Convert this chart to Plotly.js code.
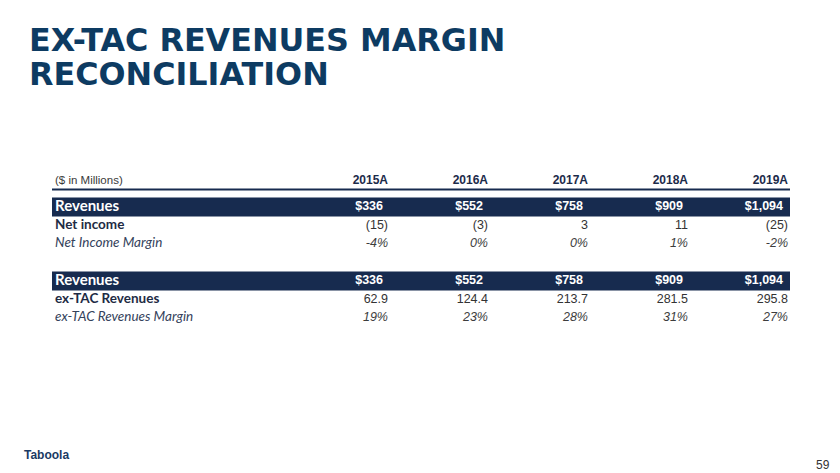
<!DOCTYPE html>
<html>
<head>
<meta charset="utf-8">
<script src="https://cdn.plot.ly/plotly-3.0.1.min.js"></script>
<style>
html,body{margin:0;padding:0;background:#fff;}
#chart{width:840px;height:473px;}
</style>
</head>
<body>
<div id="chart"></div>
<script>
// ---- data ----
const years = ['2015A', '2016A', '2017A', '2018A', '2019A'];
const revenues = [336, 552, 758, 909, 1094];
const netIncome = [-15, -3, 3, 11, -25];
const netIncomeMargin = [-4, 0, 0, 1, -2];
const exTacRevenues = [62.9, 124.4, 213.7, 281.5, 295.8];
const exTacMargin = [19, 23, 28, 31, 27];
const rowLabels = ['Revenues', 'Net income', 'Net Income Margin', '', 'Revenues', 'ex-TAC Revenues', 'ex-TAC Revenues Margin'];
const unitLabel = '($ in Millions)';
const titleLines = ['EX-TAC REVENUES MARGIN', 'RECONCILIATION'];
const pageNumber = '59';

// ---- formatting ----
const fmtRev = v => '$' + v.toLocaleString('en-US');
const fmtParen = v => v < 0 ? '(' + Math.abs(v) + ')' : String(v);
const fmtPct = v => v + '%';
const fmtDec = v => v.toFixed(1);

const rowValues = [
  revenues.map(fmtRev),
  netIncome.map(fmtParen),
  netIncomeMargin.map(fmtPct),
  null,
  revenues.map(fmtRev),
  exTacRevenues.map(fmtDec),
  exTacMargin.map(fmtPct)
];
// row kinds: band / bold / italic
const rowKind = ['band', 'bold', 'italic', 'blank', 'band', 'bold', 'italic'];

// ---- layout constants ----
const W = 840, H = 473;
const tableLeft = 52, tableRight = 790;
const labelX = 55;
const colRight = [388, 488, 588, 688, 788];
const headerY = 181;
const headerLineY = 189.5;
const firstRowY = 207;
const rowPitch = 18.5;
const bandHalf = 9.5;
const navy = '#172b4f';
const titleColor = '#0d3b62';
const rowY = i => firstRowY + i * rowPitch;

const traces = [];
const shapes = [];

// header line
shapes.push({type: 'line', xref: 'x', yref: 'y', x0: tableLeft, x1: tableRight, y0: headerLineY, y1: headerLineY,
  line: {color: navy, width: 2}, layer: 'below'});

// bands
rowKind.forEach((k, i) => {
  if (k === 'band') {
    shapes.push({type: 'rect', xref: 'x', yref: 'y', x0: tableLeft, x1: tableRight,
      y0: rowY(i) - bandHalf, y1: rowY(i) + bandHalf, fillcolor: navy, line: {width: 0}, layer: 'below'});
  }
});

// header texts
traces.push({type: 'scatter', mode: 'text', x: [labelX], y: [headerY], text: [unitLabel],
  textposition: 'middle right', textfont: {family: 'Liberation Sans, Arial, sans-serif', size: 11.5, color: '#3a3a3a'},
  hoverinfo: 'skip', showlegend: false});
traces.push({type: 'scatter', mode: 'text', x: colRight, y: years.map(() => headerY), text: years.map(y => '<b>' + y + '</b>'),
  textposition: 'middle left', textfont: {family: 'Liberation Sans, Arial, sans-serif', size: 12, color: '#1c2b4a'},
  hoverinfo: 'skip', showlegend: false});

// row labels
rowLabels.forEach((lab, i) => {
  if (!lab) return;
  const k = rowKind[i];
  let txt = lab, font;
  if (k === 'band') { txt = '<b>' + lab + '</b>'; font = {family: 'Lato, Carlito, sans-serif', size: 15, color: '#ffffff'}; }
  else if (k === 'bold') { txt = '<b>' + lab + '</b>'; font = {family: 'Lato, Carlito, sans-serif', size: 13.5, color: '#1e2b44'}; }
  else { txt = '<i>' + lab + '</i>'; font = {family: 'Lato, Carlito, sans-serif', size: 13.5, color: '#34425b'}; }
  traces.push({type: 'scatter', mode: 'text', x: [labelX], y: [rowY(i)], text: [txt], textposition: 'middle right',
    textfont: font, hoverinfo: 'skip', showlegend: false});
});

// row values
rowValues.forEach((vals, i) => {
  if (!vals) return;
  const k = rowKind[i];
  let font, txt, xs;
  if (k === 'band') {
    txt = vals.map(v => '<b>' + v + '</b>');
    font = {family: 'Liberation Sans, Arial, sans-serif', size: 12.5, color: '#ffffff'};
    xs = colRight.map(x => x - 5);
  } else if (k === 'bold') {
    txt = vals;
    font = {family: 'Liberation Sans, Arial, sans-serif', size: 12.5, color: '#333333'};
    xs = colRight;
  } else {
    txt = vals.map(v => '<i>' + v + '</i>');
    font = {family: 'Liberation Sans, Arial, sans-serif', size: 12.5, color: '#3d3d3d'};
    xs = colRight;
  }
  traces.push({type: 'scatter', mode: 'text', x: xs, y: vals.map(() => rowY(i)), text: txt, textposition: 'middle left',
    textfont: font, hoverinfo: 'skip', showlegend: false});
});

const annotations = [
  {xref: 'x', yref: 'y', x: 27, y: 39, xanchor: 'left', yanchor: 'middle', showarrow: false,
    text: '<b>' + titleLines[0] + '</b>', font: {family: 'DejaVu Sans, sans-serif', size: 31.8, color: titleColor}},
  {xref: 'x', yref: 'y', x: 27, y: 73, xanchor: 'left', yanchor: 'middle', showarrow: false,
    text: '<b>' + titleLines[1] + '</b>', font: {family: 'DejaVu Sans, sans-serif', size: 31.8, color: titleColor}},
  {xref: 'x', yref: 'y', x: 22, y: 455, xanchor: 'left', yanchor: 'middle', showarrow: false,
    text: '<b>Taboola</b>', font: {family: 'Liberation Sans Narrow, Liberation Sans, sans-serif', size: 12, color: '#1a3a64'}},
  {xref: 'x', yref: 'y', x: 832, y: 465, xanchor: 'right', yanchor: 'middle', showarrow: false,
    text: pageNumber, font: {family: 'Liberation Sans Narrow, Liberation Sans, sans-serif', size: 12, color: '#333333'}}
];

const layout = {
  width: W, height: H,
  margin: {l: 0, r: 0, t: 0, b: 0, pad: 0},
  paper_bgcolor: '#ffffff', plot_bgcolor: '#ffffff',
  showlegend: false,
  xaxis: {range: [0, W], visible: false, fixedrange: true},
  yaxis: {range: [H, 0], visible: false, fixedrange: true},
  shapes: shapes,
  annotations: annotations
};

Plotly.newPlot('chart', traces, layout, {displayModeBar: false, staticPlot: true});
</script>
</body>
</html>
